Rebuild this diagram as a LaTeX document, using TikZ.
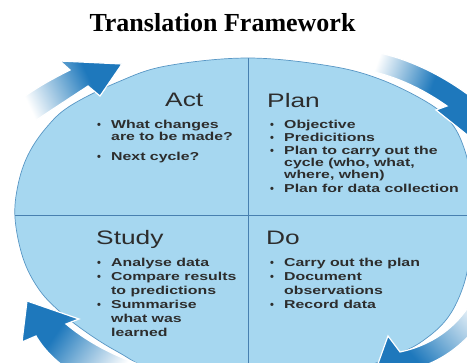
\documentclass[tikz,border=0pt]{standalone}
\usepackage{fontspec}
\setmainfont{Liberation Serif}
\newfontfamily\headfont[FakeStretch=1.35]{Liberation Sans}
\newfontfamily\itemfont[FakeStretch=1.38]{Liberation Sans}
\newfontfamily\dotfont{Liberation Sans}

\definecolor{cellfill}{RGB}{166,215,240}
\definecolor{celledge}{RGB}{88,150,196}
\definecolor{divline}{RGB}{72,128,176}
\definecolor{arrowblue}{RGB}{30,120,188}
\definecolor{arrowmid}{RGB}{125,178,216}
\definecolor{inktext}{RGB}{45,45,45}

\pgfdeclareverticalshading{arrowfade}{100bp}{color(0bp)=(white); color(30bp)=(white); color(50bp)=(arrowmid); color(64bp)=(arrowblue); color(100bp)=(arrowblue)}
\pgfdeclareverticalshading{arrowfadeshort}{100bp}{color(0bp)=(white); color(26bp)=(white); color(40bp)=(arrowmid); color(50bp)=(arrowblue); color(100bp)=(arrowblue)}

% bullet with a fixed hanging width
\newcommand\bul{\makebox[14pt][l]{{\dotfont\bfseries\fontsize{11}{11}\selectfont •}}}
\newcommand\hang{\hspace*{14pt}}

\tikzset{
  titletext/.style={inner sep=0pt, font=\bfseries\fontsize{26}{26}\selectfont},
  headtext/.style={inner sep=0pt, text=inktext, font=\headfont\fontsize{19.5}{20}\selectfont},
  listtext/.style={inner sep=0pt, text=inktext, font=\itemfont\bfseries\fontsize{11.5}{12}\selectfont},
  listwide/.style={inner sep=0pt, text=inktext, font=\itemfont\bfseries\fontsize{11.5}{14}\selectfont},
  arrowband/.style={shading=arrowfade, draw=white, line width=1.2pt},
  divider/.style={draw=divline, line width=0.9pt},
}

\begin{document}
\begin{tikzpicture}[x=1pt,y=-1pt]
\useasboundingbox (0,0) rectangle (467,363);
\clip (0,0) rectangle (467,363);

% the four-quadrant cycle body
\def\cellshape{plot[smooth cycle, tension=0.6] coordinates {
  (248,58) (330,66) (382,80) (430,104) (452,124) (464,148) (471,178)
  (474,215) (470,255) (463,287) (449,316) (428,337) (400,353) (340,374)
  (248,386) (160,372) (118,352) (86,332) (58,310) (38,288) (23,258)
  (15,218) (18,185) (28,155) (46,128) (70,106) (118,82) (166,66)}}
\fill[cellfill] \cellshape;
\begin{scope}
  \clip \cellshape;
  \draw[divider] (248,40) -- (248,400);
  \draw[divider] (0,215) -- (490,215);
\end{scope}
\draw[celledge, line width=0.7pt] \cellshape;

% circular arrows, fading from tail to head
\shade[arrowband, shading angle=-65]
  (10,108) .. controls (28,92) and (50,80) .. (70,70) -- (60,61) -- (122,64)
  -- (100,96) -- (88,86) .. controls (70,98) and (45,114) .. (28,126) -- cycle;
\shade[arrowband, shading=arrowfadeshort, shading angle=-110]
  (360,50) .. controls (395,53) and (435,70) .. (470,96) -- (494,86) -- (486,150)
  -- (436,110) -- (447,106) .. controls (430,94) and (400,76) .. (364,70) -- cycle;
\shade[arrowband, shading angle=132]
  (484,272) -- (498,285) .. controls (484,330) and (450,360) .. (413,369)
  -- (425,386) -- (370,386) -- (388,336) -- (400,352)
  .. controls (442,343) and (472,315) .. (484,272) -- cycle;
\shade[arrowband, shading angle=55]
  (27,301) -- (79,319) -- (66,324) .. controls (85,340) and (112,356) .. (150,368)
  -- (100,388) .. controls (65,372) and (45,352) .. (36,336) -- (22,342) -- cycle;

% title
\node[titletext, anchor=base] (title) at (222.5,32) {Translation Framework};

% quadrant headings
\node[headtext, anchor=base west] (act) at (165,107) {Act};
\node[headtext, anchor=base west] (plan) at (267,108) {Plan};
\node[headtext, anchor=base west] (study) at (96,245) {Study};
\node[headtext, anchor=base west] (do) at (266,245) {Do};

% quadrant bullet lists
\node[listtext, anchor=base west] (actlist) at (97,129) {\begin{tabular}[t]{@{}l@{}}
  \bul What changes\\ \hang are to be made?\\[8pt]
  \bul Next cycle?\end{tabular}};
\node[listtext, anchor=base west] (planlist) at (270,129) {\begin{tabular}[t]{@{}l@{}}
  \bul Objective\\[1pt]
  \bul Predicitions\\[1pt]
  \bul Plan to carry out the\\ \hang cycle (who, what,\\ \hang where, when)\\[2pt]
  \bul Plan for data collection\end{tabular}};
\node[listwide, anchor=base west] (studylist) at (97,267) {\begin{tabular}[t]{@{}l@{}}
  \bul Analyse data\\
  \bul Compare results\\ \hang to predictions\\
  \bul Summarise\\ \hang what was\\ \hang learned\end{tabular}};
\node[listwide, anchor=base west] (dolist) at (270,267) {\begin{tabular}[t]{@{}l@{}}
  \bul Carry out the plan\\
  \bul Document\\ \hang observations\\
  \bul Record data\end{tabular}};
\end{tikzpicture}
\end{document}
